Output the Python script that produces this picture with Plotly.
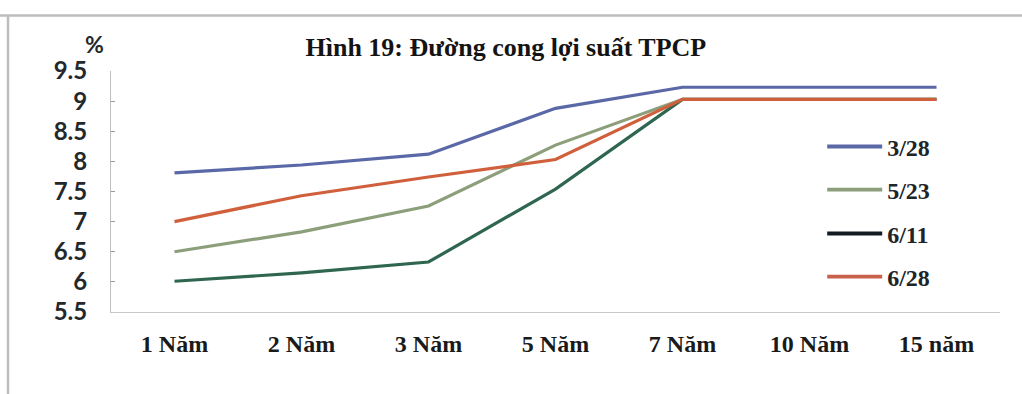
import plotly.graph_objects as go

# Government bond yield curve (%), by maturity
maturities = ["1 Năm", "2 Năm", "3 Năm", "5 Năm", "7 Năm", "10 Năm", "15 năm"]
yield_0328 = [7.81, 7.94, 8.12, 8.88, 9.23, 9.23, 9.23]
yield_0523 = [6.50, 6.83, 7.26, 8.27, 9.03, 9.03, 9.03]
yield_0611 = [6.01, 6.15, 6.33, 7.54, 9.03, 9.03, 9.03]
yield_0628 = [7.00, 7.43, 7.74, 8.03, 9.03, 9.03, 9.03]
y_ticks = [5.5, 6, 6.5, 7, 7.5, 8, 8.5, 9, 9.5]

series = [
    ("3/28", yield_0328, "#5a68a8", "#5a68a8"),
    ("5/23", yield_0523, "#8c9e7a", "#8c9e7a"),
    ("6/11", yield_0611, "#2f6650", "#141a22"),
    ("6/28", yield_0628, "#d0603c", "#c8604a"),
]

fig = go.Figure()
# draw order: 6/11 under the others, 6/28 on top
for name, vals, color, _ in [series[2], series[1], series[0], series[3]]:
    fig.add_trace(go.Scatter(
        x=maturities, y=vals, mode="lines", name=name,
        line=dict(color=color, width=3.2), showlegend=False,
        hoverinfo="skip",
    ))

serif = "Liberation Serif"
# one small legend per series so the keys can be spaced widely
legend_y = [0.685, 0.506, 0.324, 0.145]
legend_layouts = {}
for i, ((name, _, _, key_color), ly) in enumerate(zip(series, legend_y)):
    lname = "legend" if i == 0 else f"legend{i + 1}"
    fig.add_trace(go.Scatter(
        x=[None], y=[None], mode="lines", name=name, legend=lname,
        line=dict(color=key_color, width=3.8),
    ))
    legend_layouts[lname] = dict(
        x=0.80, xanchor="left", y=ly, yanchor="middle",
        font=dict(family=serif, size=24, color="#1e2528", weight="bold"),
        bgcolor="rgba(0,0,0,0)", itemwidth=55,
    )

fig.update_layout(
    width=1022, height=394,
    margin=dict(l=111, r=22, t=71, b=82),
    paper_bgcolor="white", plot_bgcolor="white",
    title=dict(
        text="Hình 19: Đường cong lợi suất TPCP",
        x=0.495, xanchor="center", y=0.88, yanchor="middle",
        font=dict(family=serif, size=26, color="#141414", weight="bold"),
    ),
    xaxis=dict(
        type="category", range=[-0.5, 6.5],
        showgrid=False, showline=True, linecolor="#c8c8c8", linewidth=1,
        ticks="", ticklabelstandoff=10,
        tickfont=dict(family=serif, size=24, color="#1a1a1a", weight="bold"),
    ),
    yaxis=dict(
        range=[5.5, 9.5], tickvals=y_ticks,
        ticktext=[f"{v:g}" for v in y_ticks],
        showgrid=False, showline=True, linecolor="#c0c0c0", linewidth=1,
        ticks="inside", ticklen=4, tickcolor="#9a9a9a",
        ticklabelstandoff=18,
        tickfont=dict(family="Lato", size=24, color="#23282a", weight="bold"),
        zeroline=False,
    ),
    shapes=[
        dict(type="line", xref="paper", yref="paper",
             x0=-111 / 889, x1=1.03, y0=1.23, y1=1.23,
             line=dict(color="#bdbdbd", width=2.5)),
        dict(type="line", xref="paper", yref="paper",
             x0=-103 / 889, x1=-103 / 889, y0=1.23, y1=-0.35,
             line=dict(color="#bdbdbd", width=2.5)),
    ],
    annotations=[
        dict(text="%", xref="paper", yref="paper",
             x=-5 / 889, y=1.11, xanchor="right", yanchor="middle",
             showarrow=False,
             font=dict(family="Lato", size=23, color="#23282a", weight="bold")),
    ],
    **legend_layouts,
)

fig.write_html("out.html")
